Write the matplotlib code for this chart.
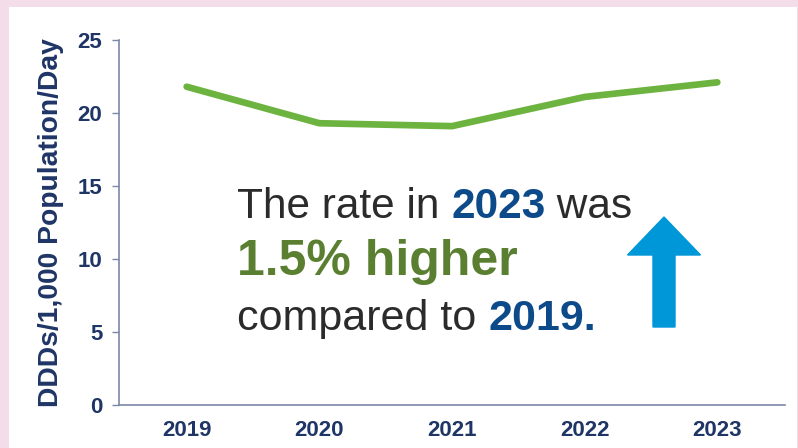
import matplotlib.pyplot as plt
from matplotlib.patches import Rectangle, FancyArrow

plt.rcParams['font.family'] = ['Liberation Sans', 'DejaVu Sans']

years = [2019, 2020, 2021, 2022, 2023]
rate = [21.8, 19.3, 19.1, 21.1, 22.1]
y_ticks = [0, 5, 10, 15, 20, 25]

navy = '#1f3566'
spine_col = '#7d87a8'
line_green = '#6cb33f'
text_green = '#5a7f30'
text_blue = '#0d4a8a'
text_grey = '#2b2b2b'
arrow_blue = '#0097d9'

fig = plt.figure(figsize=(7.98, 4.48), dpi=100, facecolor='#f2dde8')
# white card over the pink background
fig.patches.append(Rectangle((9 / 798, 0), 788 / 798, 441 / 448,
                             transform=fig.transFigure, facecolor='white',
                             edgecolor='none', zorder=-5))

ax = fig.add_axes([119 / 798, 43 / 448, 666 / 798, 365 / 448])
ax.set_facecolor('none')
ax.plot(years, rate, color=line_green, lw=4.8, solid_capstyle='round',
        solid_joinstyle='round')

ax.set_xlim(2018.49, 2023.51)
ax.set_ylim(0, 25)
ax.set_xticks(years)
ax.set_xticklabels([str(y) for y in years])
ax.set_yticks(y_ticks)

for s in ['top', 'right']:
    ax.spines[s].set_visible(False)
for s in ['left', 'bottom']:
    ax.spines[s].set_color(spine_col)
    ax.spines[s].set_linewidth(1.2)

ax.tick_params(axis='y', length=5, width=1.0, color=spine_col, pad=7,
               labelsize=16, labelcolor=navy)
ax.tick_params(axis='x', length=0, pad=11, labelsize=16, labelcolor=navy)
for lab in ax.get_xticklabels() + ax.get_yticklabels():
    lab.set_fontweight('bold')

ax.set_ylabel('DDDs/1,000 Population/Day', fontsize=20.3, fontweight='bold',
              color=navy, labelpad=10)

# callout text, three lines with coloured runs
lines = [
    [('The rate in ', text_grey, 'normal'), ('2023', text_blue, 'bold'),
     (' was', text_grey, 'normal')],
    [('1.5% higher', text_green, 'bold')],
    [('compared to ', text_grey, 'normal'), ('2019.', text_blue, 'bold')],
]
sizes = [30.5, 36, 31]
baselines = [218, 275, 330]
fig.canvas.draw()
renderer = fig.canvas.get_renderer()
for runs, fs, yb in zip(lines, sizes, baselines):
    x = 237
    for txt, col, wt in runs:
        t = fig.text(x / 798, 1 - yb / 448, txt, fontsize=fs, color=col,
                     fontweight=wt, va='baseline', ha='left')
        bb = t.get_window_extent(renderer)
        x += bb.width

fig.patches.append(FancyArrow(664 / 798, 1 - 327 / 448, 0, 110 / 448,
                              width=22 / 798, head_width=73 / 798,
                              head_length=38 / 448, length_includes_head=True,
                              transform=fig.transFigure, color=arrow_blue,
                              zorder=3))

fig.savefig('out.png', dpi=100, facecolor=fig.get_facecolor())
